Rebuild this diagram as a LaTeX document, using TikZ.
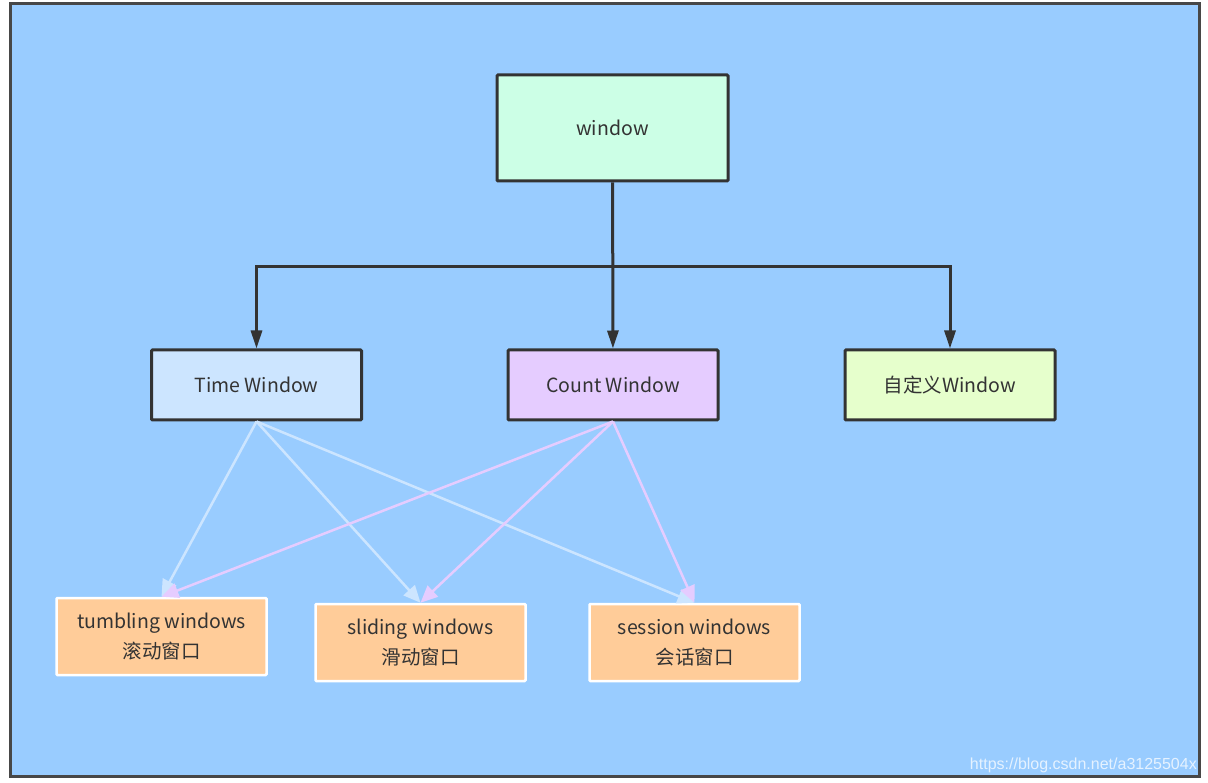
\documentclass[tikz,border=0pt]{standalone}
\usepackage{fontspec}
\setmainfont{Noto Sans CJK SC}
\newfontfamily\markfont{Liberation Sans}
\usetikzlibrary{arrows.meta}

\definecolor{sky}{HTML}{99CCFF}
\definecolor{ink}{HTML}{333333}
\definecolor{mint}{HTML}{CCFFE6}
\definecolor{ice}{HTML}{CCE5FF}
\definecolor{lilac}{HTML}{E5CCFF}
\definecolor{lime}{HTML}{E6FFCC}
\definecolor{peach}{HTML}{FFCC99}

\tikzset{
  box/.style={draw=ink, line width=3pt, rounded corners=1pt, minimum width=210pt,
    minimum height=70pt, inner sep=0pt, text=ink, font=\fontsize{19.5}{22}\selectfont},
  leaf/.style={box, draw=white, line width=2.5pt, minimum height=77pt, align=center,
    font=\fontsize{19.5}{30}\selectfont},
  tree/.style={draw=ink, line width=3pt, -{Triangle[length=18pt,width=11pt]}},
  timeedge/.style={draw=ice, line width=2.5pt, -{Triangle[length=17pt,width=15pt]}},
  countedge/.style={draw=lilac, line width=2.5pt, -{Triangle[length=17pt,width=15pt]}}
}

\begin{document}
\begin{tikzpicture}[x=1pt,y=-1pt]

\useasboundingbox (0,0) rectangle (1208,783);
\draw[fill=sky, draw=ink!90, line width=3pt] (10,4) rectangle (1199,776);

\node[box, fill=mint, minimum width=231pt, minimum height=106pt] (win) at (612.5,128) {window};
\node[box, fill=ice]   (tim) at (256.5,385) {Time Window};
\node[box, fill=lilac] (cnt) at (613,385)   {Count Window};
\node[box, fill=lime]  (own) at (950,385)   {自定义Window};

\node[leaf, fill=peach] (tum) at (161.5,636.5) {tumbling windows\\滚动窗口};
\node[leaf, fill=peach] (sli) at (420.5,642.5) {sliding windows\\滑动窗口};
\node[leaf, fill=peach] (ses) at (694.5,642.5) {session windows\\会话窗口};

\coordinate (j) at (612.5,267);
\draw[tree] (win) -- (cnt);
\draw[tree] (j) -| (tim);
\draw[tree] (j) -| (own);

\foreach \d in {tum,sli,ses}
  \draw[timeedge] (tim.south) -- (\d.north);
\foreach \d in {tum,sli,ses}
  \draw[countedge] (cnt.south) -- (\d.north);

\node[anchor=south east, inner sep=0pt, text=white!75!sky, font=\markfont\fontsize{16}{16}\selectfont]
  (mark) at (1197,773) {https://blog.csdn.net/a3125504x};

\end{tikzpicture}
\end{document}
